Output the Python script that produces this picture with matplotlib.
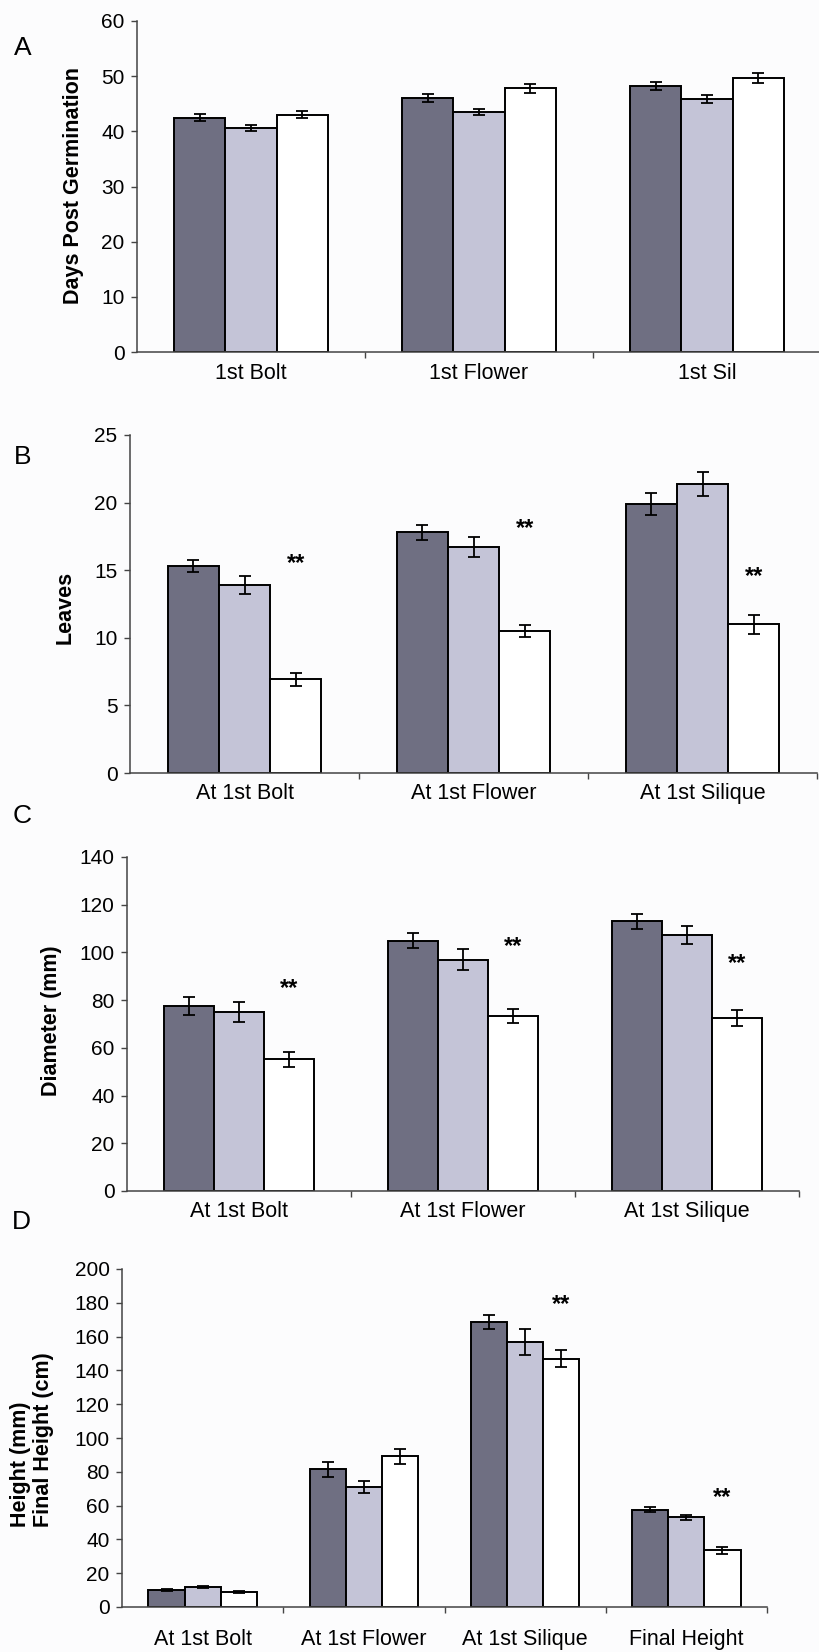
import matplotlib
matplotlib.use("Agg")
import matplotlib.pyplot as plt
import numpy as np

plt.rcParams['font.family'] = ['Liberation Sans', 'DejaVu Sans']

# ---- data ----
cats_a = ["1st Bolt", "1st Flower", "1st Sil"]
a_dark = [42.5, 46.0, 48.2]
a_light = [40.6, 43.5, 45.8]
a_white = [43.0, 47.8, 49.7]
a_dark_err = [0.6, 0.7, 0.75]
a_light_err = [0.6, 0.6, 0.7]
a_white_err = [0.6, 0.8, 0.9]

cats_b = ["At 1st Bolt", "At 1st Flower", "At 1st Silique"]
b_dark = [15.3, 17.8, 19.9]
b_light = [13.9, 16.7, 21.35]
b_white = [6.95, 10.5, 11.0]
b_dark_err = [0.43, 0.57, 0.84]
b_light_err = [0.64, 0.73, 0.89]
b_white_err = [0.48, 0.43, 0.7]
b_stars = [16.1, 18.7, 15.1]

cats_c = ["At 1st Bolt", "At 1st Flower", "At 1st Silique"]
c_dark = [77.5, 105.0, 113.0]
c_light = [75.0, 97.0, 107.4]
c_white = [55.2, 73.3, 72.5]
c_dark_err = [3.8, 3.1, 3.1]
c_light_err = [4.3, 4.5, 3.8]
c_white_err = [3.1, 2.8, 3.3]
c_stars = [88.4, 106.0, 98.6]

cats_d = ["At 1st Bolt", "At 1st Flower", "At 1st Silique", "Final Height"]
d_dark = [10.2, 81.6, 168.6, 57.6]
d_light = [11.8, 71.2, 156.8, 53.1]
d_white = [8.7, 89.1, 146.9, 33.5]
d_dark_err = [0.5, 4.4, 4.2, 1.3]
d_light_err = [0.5, 3.6, 7.9, 1.4]
d_white_err = [0.5, 4.4, 4.9, 2.0]
d_stars = [None, None, 184.0, 69.4]

# ---- style ----
W, H = 819, 1652
DARK = "#6f6f82"
LIGHT = "#c4c4d7"
WHITE = "#ffffff"
AXC = "#444444"
BW = 0.224
STAR_FS = 17

fig = plt.figure(figsize=(W / 100, H / 100), dpi=100)
fig.patch.set_facecolor("#fcfcfd")


def make_axes(left, right, top, bottom):
    return fig.add_axes([left / W, 1 - bottom / H, (right - left) / W, (bottom - top) / H])


def panel(ax, cats, series, errs, ymax, ystep, stars, label_pad):
    n = len(cats)
    x = np.arange(n)
    colors = [DARK, LIGHT, WHITE]
    for k, (vals, err, col) in enumerate(zip(series, errs, colors)):
        xs = x + (k - 1) * BW
        ax.bar(xs, vals, width=BW, color=col, edgecolor="black", linewidth=1.4, zorder=2)
        ax.errorbar(xs, vals, yerr=err, fmt="none", ecolor="black",
                    elinewidth=1.3, capsize=4.5, capthick=1.3, zorder=3)
    for i, s in enumerate(stars):
        if s is not None:
            # asterisks sit high in the em box, so anchor on the baseline below
            ax.annotate("**", (x[i] + BW, s), xytext=(0, -0.62 * STAR_FS),
                        textcoords="offset points", ha="center", va="baseline",
                        fontsize=STAR_FS, fontweight="bold", zorder=4)
    ax.set_xlim(-0.5, n - 0.5)
    ax.set_ylim(0, ymax)
    ax.set_yticks(np.arange(0, ymax + ystep / 2, ystep))
    ax.set_xticks(x)
    ax.set_xticklabels(cats)
    ax.set_xticks(np.arange(-0.5, n, 1.0)[1:], minor=True)
    ax.tick_params(axis="x", which="major", length=0, pad=label_pad, labelsize=15.5)
    ax.tick_params(axis="x", which="minor", length=4, direction="out", color=AXC, width=1)
    ax.tick_params(axis="y", length=4, direction="out", color=AXC, width=1, labelsize=15, pad=5)
    for sp in ("top", "right"):
        ax.spines[sp].set_visible(False)
    for sp in ("left", "bottom"):
        ax.spines[sp].set_color(AXC)
        ax.spines[sp].set_linewidth(1.1)
    ax.set_facecolor("none")


axA = make_axes(137, 821, 21, 352)
panel(axA, cats_a, [a_dark, a_light, a_white], [a_dark_err, a_light_err, a_white_err],
      60, 10, [None, None, None], 8)
axB = make_axes(130, 817, 435, 773)
panel(axB, cats_b, [b_dark, b_light, b_white], [b_dark_err, b_light_err, b_white_err],
      25, 5, b_stars, 7)
axC = make_axes(127, 799, 857, 1191)
panel(axC, cats_c, [c_dark, c_light, c_white], [c_dark_err, c_light_err, c_white_err],
      140, 20, c_stars, 7)
axD = make_axes(122, 767, 1269, 1607)
panel(axD, cats_d, [d_dark, d_light, d_white], [d_dark_err, d_light_err, d_white_err],
      200, 20, d_stars, 16)


def ftext(px, py, s, **kw):
    fig.text(px / W, 1 - py / H, s, **kw)


# panel letters
for lab, (px, py) in zip("ABCD", [(23, 48), (23, 457), (22, 816), (21, 1222)]):
    ftext(px, py, lab, fontsize=19, ha="center", va="center")

# y-axis titles
ftext(74, 186, "Days Post Germination", rotation=90, fontsize=15.5, fontweight="bold",
      ha="center", va="center")
ftext(65, 607, "Leaves", rotation=90, fontsize=15.5, fontweight="bold", ha="center", va="center")
ftext(52, 1021, "Diameter (mm)", rotation=90, fontsize=15.5, fontweight="bold",
      ha="center", va="center")
ftext(32, 1440, "Height (mm)\nFinal Height (cm)", rotation=90, fontsize=15.5, fontweight="bold",
      ha="center", va="center", multialignment="left", linespacing=1.1)

fig.savefig("out.png", dpi=100, facecolor=fig.get_facecolor())
